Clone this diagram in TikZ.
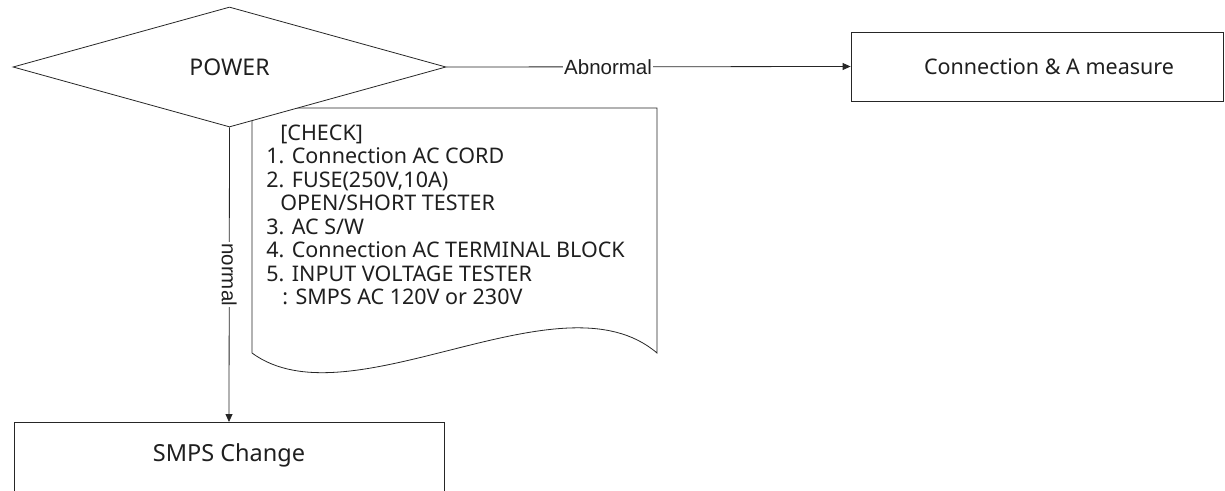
\documentclass[tikz,border=0pt]{standalone}
\usepackage{fontspec}
\setmainfont{Noto Sans}
\newfontfamily\labfont{Liberation Sans}
\usetikzlibrary{shapes.geometric,arrows.meta}
\begin{document}
\begin{tikzpicture}[x=1pt,y=-1pt, line width=0.8pt,
  every node/.style={text=black!88},
  boxnode/.style={draw=black!85, rectangle, inner sep=0pt},
  arr/.style={draw=black!85, -{Triangle[length=8pt,width=7pt]}},
  lab/.style={fill=white, inner sep=1pt, font=\labfont\fontsize{20.5}{24}\selectfont}]
\useasboundingbox (0,0) rectangle (1225,490);
% document shape
\draw[draw=black!85, fill=white] (252,108) -- (657,108) -- (657,353)
  .. controls (560,270) and (350,425) .. (252,353) -- cycle;
\node[anchor=base west, align=left, inner sep=0pt,
  font=\fontsize{21.5}{23.5}\selectfont] (check) at (266,304.5)
  {\hspace*{14pt}[CHECK]\\
   1. Connection AC CORD\\
   2. FUSE(250V,10A)\\
   \hspace*{14pt}OPEN/SHORT TESTER\\
   3. AC S/W\\
   4. Connection AC TERMINAL BLOCK\\
   5. INPUT VOLTAGE TESTER\\
   \hspace*{16pt}: SMPS AC 120V or 230V};
% decision
\node[draw=black!85, diamond, fill=white, minimum width=433pt, minimum height=120pt,
  inner sep=0pt, shape aspect=3.6, font=\fontsize{23}{26}\selectfont] (power) at (229.5,67) {POWER};
% boxes
\node[boxnode, minimum width=372pt, minimum height=69pt] (conn) at (1037,66.5) {};
\node[font=\fontsize{21.5}{25}\selectfont] (conntext) at (1049,67) {Connection \& A measure};
\node[boxnode, minimum width=430pt, minimum height=100pt, anchor=north] (smps) at (229,422) {};
\node[font=\fontsize{23.5}{27}\selectfont] (smpstext) at (229,455) {SMPS Change};
% connectors
\draw[arr] (power.east) -- node[lab, pos=0.4] {Abnormal} (conn.west);
\draw[arr] (power.south) -- node[lab, rotate=-90] {normal} (smps.north);
\end{tikzpicture}
\end{document}
